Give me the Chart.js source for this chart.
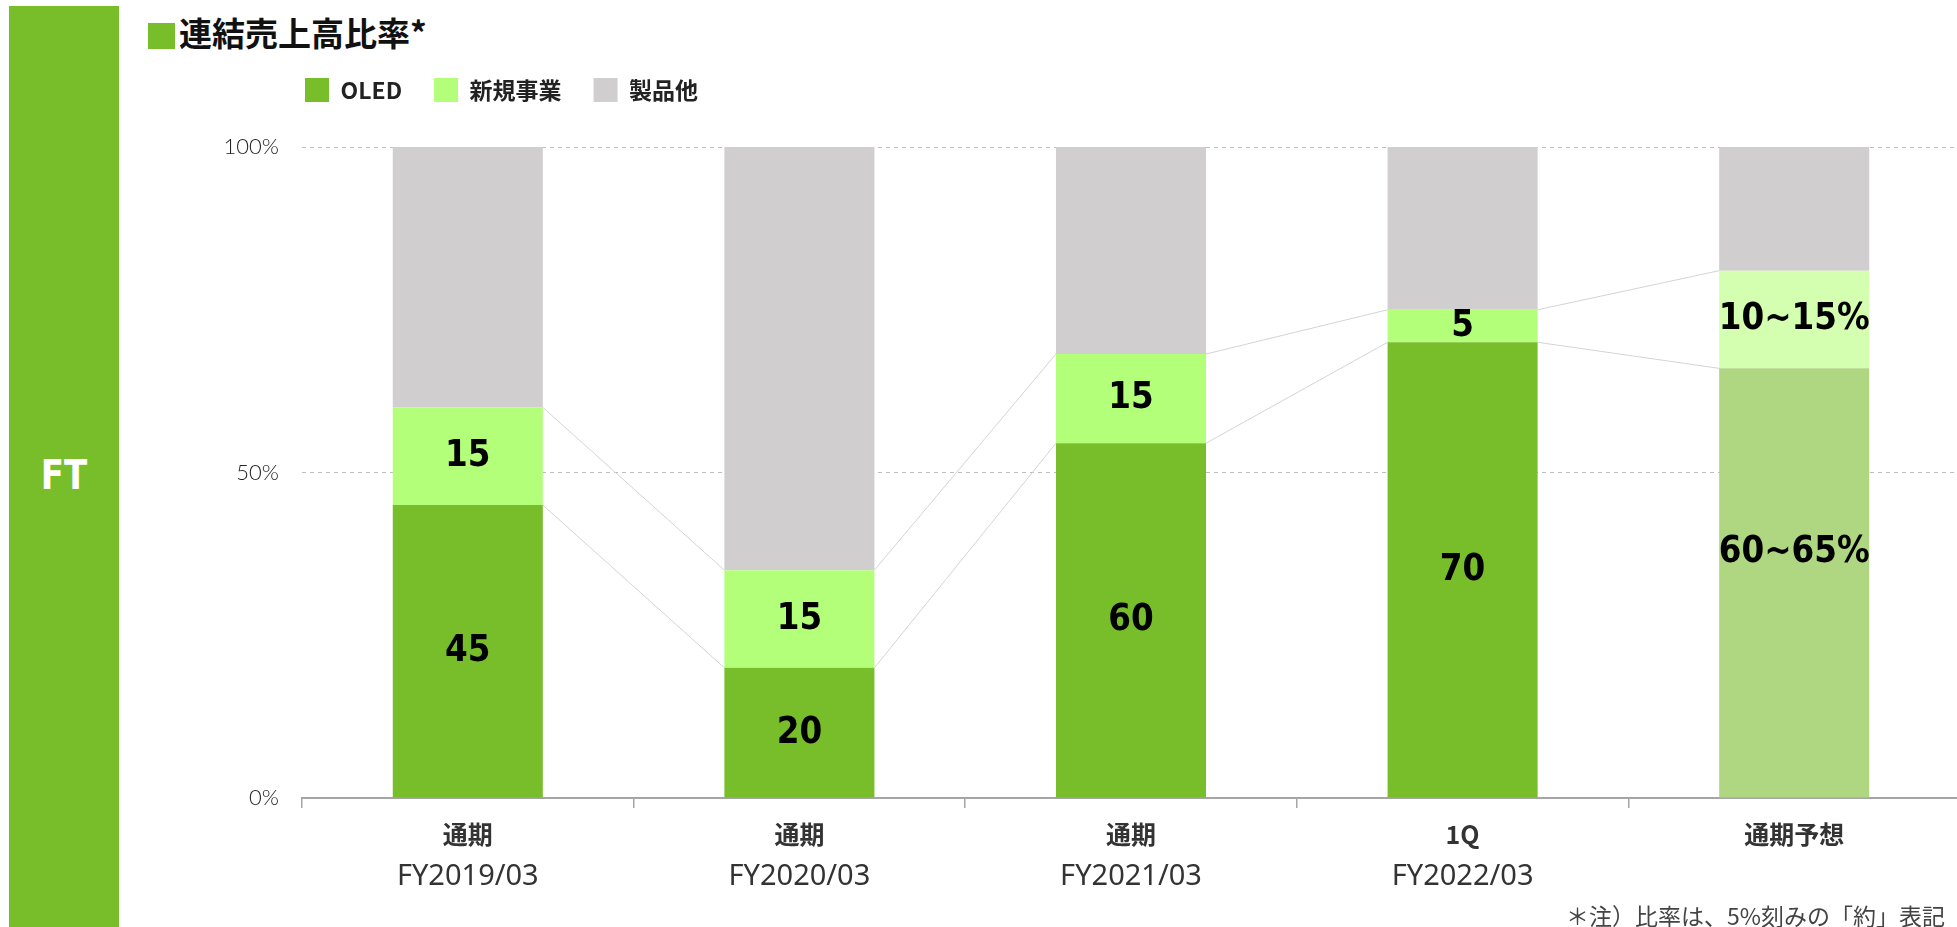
<!DOCTYPE html>
<html>
<head>
<meta charset="utf-8">
<script src="https://cdn.jsdelivr.net/npm/chart.js@4.4.1/dist/chart.umd.min.js"></script>
<style>
  html, body { margin: 0; padding: 0; width: 1957px; height: 927px; overflow: hidden; background: #fff; }
  #band { position: absolute; left: 9px; top: 6px; width: 110px; height: 921px; background: #78BE2B; }
  #band span { position: absolute; left: 0; width: 110px; top: 446px; text-align: center; color: #fff;
    font: bold 40px 'DejaVu Sans', sans-serif; transform: scaleX(0.85); }
  #title { position: absolute; left: 148px; top: 8px; font: bold 33px 'Noto Sans CJK JP', sans-serif; color: #111; white-space: nowrap; }
  #title i { display: inline-block; width: 27px; height: 26px; background: #78BE2B; margin-right: 4px; vertical-align: -3px; }
  #note { position: absolute; left: 1566px; top: 898px; font: 23px 'Noto Sans CJK JP', sans-serif; color: #444; white-space: nowrap; }
  #wrap { position: absolute; left: 0; top: 0; }
</style>
</head>
<body>
<div id="band"><span>FT</span></div>
<div id="title"><i></i>連結売上高比率*</div>
<div id="wrap"><canvas id="shareChart" width="1960" height="927"></canvas></div>
<div id="note">＊注）比率は、5%刻みの「約」表記</div>
<script>
const categories = [['通期', 'FY2019/03'], ['通期', 'FY2020/03'], ['通期', 'FY2021/03'], ['1Q', 'FY2022/03'], ['通期予想']];
const oledShare = [45, 20, 54.5, 70, 66];
const newBizShare = [15, 15, 13.7, 5, 15];
const otherShare = [40, 65, 31.8, 25, 19];
const oledLabels = ['45', '20', '60', '70', '60~65%'];
const newBizLabels = ['15', '15', '15', '5', '10~15%'];
const yTicks = [0, 50, 100];

const oledColors = ['#78BE2B', '#78BE2B', '#78BE2B', '#78BE2B', '#AFD680'];
const newBizColors = ['#B3FF7A', '#B3FF7A', '#B3FF7A', '#B3FF7A', '#D4FFB1'];

// thin grey lines joining the segment tops of neighbouring bars
const connectorLines = {
    id: 'connectorLines',
    beforeDatasetsDraw(chart) {
        const ctx = chart.ctx;
        ctx.save();
        ctx.strokeStyle = '#d4d4d4';
        ctx.lineWidth = 1;
        [0, 1].forEach(di => {
            const bars = chart.getDatasetMeta(di).data;
            for (let i = 0; i < bars.length - 1; i++) {
                const a = bars[i], b = bars[i + 1];
                ctx.beginPath();
                ctx.moveTo(a.x + a.width / 2, a.y);
                ctx.lineTo(b.x - b.width / 2, b.y);
                ctx.stroke();
            }
        });
        ctx.restore();
    }
};

const segmentLabels = {
    id: 'segmentLabels',
    afterDatasetsDraw(chart) {
        const ctx = chart.ctx;
        [[0, oledLabels], [1, newBizLabels]].forEach(([di, labels]) => {
            chart.getDatasetMeta(di).data.forEach((bar, i) => {
                const nudge = (di === 0 && i === 4) ? -31 : 0; // forecast label sits higher
                ctx.save();
                ctx.translate(bar.x, (bar.y + bar.base) / 2 + nudge);
                ctx.scale(0.86, 1); // narrow look of the original face
                ctx.fillStyle = '#000';
                ctx.textAlign = 'center';
                ctx.textBaseline = 'middle';
                ctx.font = "bold 38px 'DejaVu Sans', sans-serif";
                ctx.fillText(labels[i], 0, 0);
                ctx.restore();
            });
        });
    }
};

// category labels: first line bold, second line regular
const categoryLabels = {
    id: 'categoryLabels',
    afterDraw(chart) {
        const ctx = chart.ctx;
        const xs = chart.scales.x;
        ctx.save();
        ctx.textAlign = 'center';
        ctx.textBaseline = 'middle';
        ctx.fillStyle = '#333';
        categories.forEach((lines, i) => {
            const x = xs.getPixelForValue(i);
            ctx.font = "bold 25px 'Noto Sans CJK JP', sans-serif";
            ctx.fillText(lines[0], x, 834);
            if (lines[1]) {
                ctx.font = "29px 'Noto Sans', sans-serif";
                ctx.fillText(lines[1], x, 877);
            }
        });
        ctx.restore();
    }
};

// move the legend up and left of where the layout puts it
const legendPlace = {
    id: 'legendPlace',
    afterLayout(chart) {
        chart.legend.left = 305 - 32;
        chart.legend.top = 46;
    }
};

new Chart(document.getElementById('shareChart').getContext('2d'), {
    type: 'bar',
    data: {
        labels: categories,
        datasets: [
            { label: 'OLED', data: oledShare, backgroundColor: oledColors },
            { label: '新規事業', data: newBizShare, backgroundColor: newBizColors },
            { label: '製品他', data: otherShare, backgroundColor: '#D0CECF' }
        ]
    },
    options: {
        responsive: false,
        animation: false,
        devicePixelRatio: 1,
        layout: { padding: { top: 81, bottom: 119, left: 0, right: 0 } },
        datasets: { bar: { categoryPercentage: 1, barPercentage: 0.4525 } },
        plugins: {
            legend: {
                display: true,
                position: 'top',
                align: 'start',
                fullSize: false,
                labels: {
                    boxWidth: 24,
                    boxHeight: 24,
                    padding: 32,
                    color: '#222',
                    font: { family: "'Noto Sans CJK JP', sans-serif", size: 23, weight: 'bold' }
                }
            },
            tooltip: { enabled: false }
        },
        scales: {
            x: {
                stacked: true,
                ticks: { display: false },
                grid: { drawOnChartArea: false, drawTicks: true, tickLength: 10, color: '#a5a5a5', lineWidth: 1.5 },
                border: { display: true, color: '#a5a5a5', width: 2 }
            },
            y: {
                stacked: true,
                min: 0,
                max: 100,
                afterFit: scale => { scale.width = 302; },
                afterBuildTicks: scale => { scale.ticks = yTicks.map(v => ({ value: v })); },
                ticks: {
                    padding: 23,
                    color: '#222',
                    font: { family: 'Lato, sans-serif', size: 22, weight: 300 },
                    callback: v => v + '%'
                },
                grid: { color: '#bdbdbd', lineWidth: 1, drawTicks: false },
                border: { display: false, dash: [4, 4] }
            }
        }
    },
    plugins: [connectorLines, segmentLabels, categoryLabels, legendPlace]
});
</script>
</body>
</html>
